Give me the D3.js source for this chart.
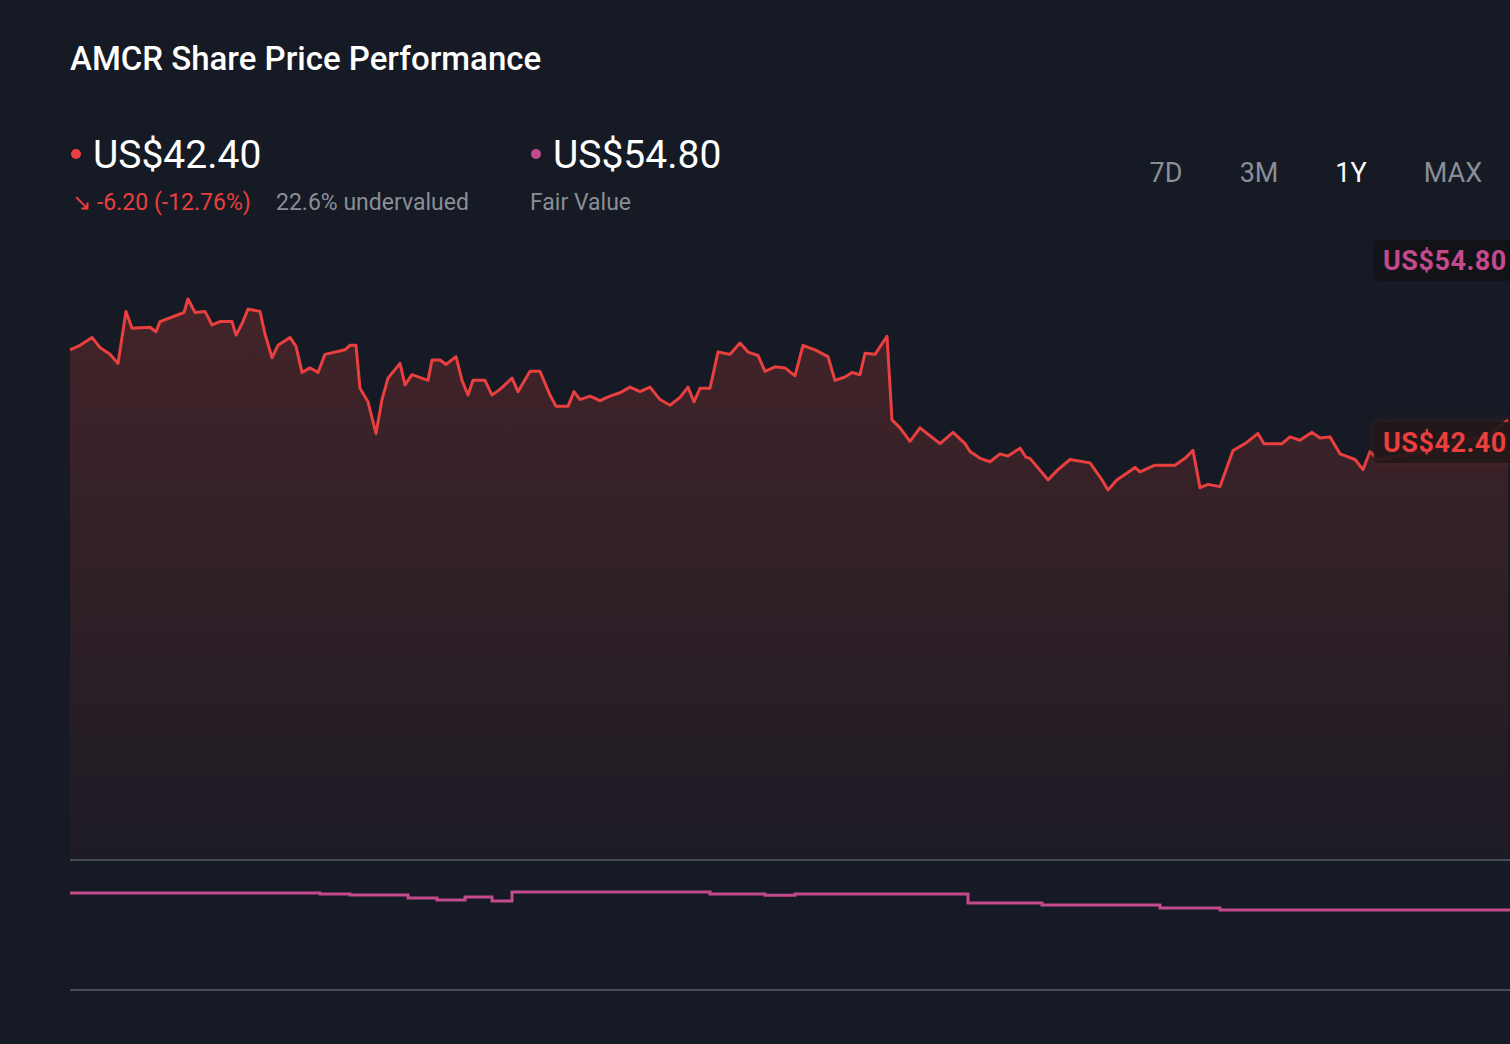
<!DOCTYPE html>
<html><head><meta charset="utf-8">
<script src="https://cdn.jsdelivr.net/npm/d3@7"></script>
<style>body{margin:0;background:#151a24;overflow:hidden}svg{display:block;font-family:Roboto,"Noto Sans",sans-serif}</style>
</head><body><svg id="c" width="1510" height="1044"></svg>
<script>
// Share price (days since start, US$)
const priceDays=[0,2.5,5.5,7.5,10,12,14,15.5,20,21.5,22.5,28.5,29.5,31.25,33.75,35.5,37.5,40.5,41.5,43,44.5,47.5,48.75,50.5,52,55,56.5,58,60,62,63.75,68.75,70,71.5,72.5,74.5,76.5,78,79.5,82.5,83.75,85.5,89.5,90.5,92.5,94,96.5,98,99.5,100.75,103.75,105.5,107.5,110.5,112,115,117.5,120,121.5,124.5,126,127.5,130,132.5,135,137.5,140,142.5,145,147.5,150,152.5,154.5,156,157.5,160,162,165,167.5,169.5,172,173.75,176.25,178.75,181.25,183.25,186.25,189.5,191.25,193.75,195.5,197.5,198.75,201.25,204.25,205.5,207.5,210,212.5,215,217.5,220.75,223.75,225,227.5,230,232.5,234.5,237.5,239,240,244.5,247,250,255,258,259.5,261.75,263,266.25,267.5,271.25,276.25,278.75,280.75,282.5,284.5,287.5,290.75,293.75,297,298.5,303,305,307.5,310.5,312.5,315,317.5,321.25,323.25,325,327,332.5,337.5,342.5,347.5,352.5,356.25,359.5];
const priceVals=[48.6,49.0,49.7,48.8,48.2,47.4,52.0,50.5,50.6,50.2,51.1,51.9,53.1,51.9,52.0,50.8,51.1,51.1,49.9,50.9,52.2,52.0,50.0,47.9,49.0,49.7,48.9,46.6,47.0,46.6,48.2,48.6,49.0,49.0,45.2,44.0,41.2,44.2,46.1,47.4,45.5,46.4,45.9,47.7,47.7,47.3,48.0,45.9,44.6,45.9,45.9,44.6,45.1,46.1,44.9,46.7,46.7,44.6,43.6,43.6,44.9,44.2,44.5,44.1,44.5,44.8,45.3,44.9,45.3,44.2,43.7,44.4,45.3,44.0,45.2,45.2,48.4,48.2,49.2,48.4,48.1,46.7,47.1,47.0,46.3,49.0,48.6,48.0,45.9,46.2,46.6,46.4,48.3,48.2,49.8,42.4,41.7,40.5,41.7,41.0,40.3,41.3,40.3,39.6,39.0,38.7,39.4,39.2,39.9,39.1,39.0,37.1,38.0,38.9,38.6,37.1,36.2,37.1,37.4,38.2,37.8,38.4,38.4,39.0,39.7,36.4,36.7,36.5,39.7,40.3,41.2,40.3,40.3,40.9,40.6,41.3,40.8,40.9,39.4,38.9,38.0,39.6,38.9,39.2,39.6,40.0,40.6,40.8,41.5,42.4];
// Fair value steps
const fvDays=[0,62.5,70,84.5,91.75,98.75,105.5,110.5,160,173.75,181.25,224.5,243,272.5,287.5,360];
const fvVals=[57.35,57.2,57.05,56.6,56.3,56.75,56.15,57.5,57.2,57.0,57.2,55.85,55.55,55.1,54.8,54.8];
const periods=["7D","3M","1Y","MAX"];
const svg=d3.select("#c");
const x=d3.scaleLinear().domain([0,359.5]).range([70,1508]);
const y=d3.scaleLinear().domain([3.47,59.2]).range([860,230]);
const yf=d3.scaleLinear().domain([42.8,62.3]).range([990,860]);
const pts=priceDays.map((d,i)=>[d,priceVals[i]]);
const defs=svg.append("defs");
const g=defs.append("linearGradient").attr("id","ag").attr("x1",0).attr("x2",0).attr("y1",0).attr("y2",1);
g.append("stop").attr("offset","0").attr("stop-color","#432429");
g.append("stop").attr("offset","1").attr("stop-color","#1d1b25");
const gl=defs.append("filter").attr("id","glow").attr("x","-20%").attr("y","-50%").attr("width","140%").attr("height","200%");
gl.append("feGaussianBlur").attr("stdDeviation",6);
svg.append("path").datum(pts).attr("fill","url(#ag)")
 .attr("d",d3.area().x(d=>x(d[0])).y0(860).y1(d=>y(d[1])));
svg.append("path").datum(pts).attr("fill","none").attr("stroke","#e9403f").attr("stroke-width",3).attr("stroke-linejoin","round")
 .attr("d",d3.line().x(d=>x(d[0])).y(d=>y(d[1])));
[860,990].forEach(v=>svg.append("line").attr("x1",70).attr("x2",1510).attr("y1",v).attr("y2",v).attr("stroke","#5a5e66").attr("stroke-width",1.5));
svg.append("path").datum(fvDays.map((d,i)=>[d,fvVals[i]])).attr("fill","none").attr("stroke","#c34a8c").attr("stroke-width",3)
 .attr("d",d3.line().curve(d3.curveStepAfter).x(d=>x(Math.min(d[0],359.5))+(d[0]>=360?2:0)).y(d=>yf(d[1])));
// title
svg.append("text").attr("x",70).attr("y",70).attr("fill","#fff").attr("font-size",33).attr("font-weight",500).text("AMCR Share Price Performance");
// header
svg.append("circle").attr("cx",76).attr("cy",154).attr("r",5).attr("fill","#e9403f");
svg.append("text").attr("x",93).attr("y",168).attr("fill","#fff").attr("font-size",39).text("US$42.40");
svg.append("text").attr("x",72).attr("y",210).attr("fill","#e9403f").attr("font-size",23).text("↘");
svg.append("text").attr("x",97).attr("y",210).attr("fill","#e9403f").attr("font-size",23).text("-6.20 (-12.76%)");
svg.append("text").attr("x",276).attr("y",210).attr("fill","#8a8e96").attr("font-size",23).text("22.6% undervalued");
svg.append("circle").attr("cx",536).attr("cy",154).attr("r",5).attr("fill","#c34a8c");
svg.append("text").attr("x",553).attr("y",168).attr("fill","#fff").attr("font-size",39).text("US$54.80");
svg.append("text").attr("x",530).attr("y",210).attr("fill","#8a8e96").attr("font-size",23).text("Fair Value");
const px=[1166,1259,1351,1453];
periods.forEach((p,i)=>svg.append("text").attr("x",px[i]).attr("y",182).attr("text-anchor","middle").attr("font-size",27).attr("fill",p==="1Y"?"#fff":"#8a8e96").text(p));
// right labels
svg.append("rect").attr("x",1374).attr("y",240).attr("width",150).attr("height",41).attr("rx",5).attr("fill","#111318");
svg.append("text").attr("x",1383).attr("y",270).attr("fill","#c34a8c").attr("font-size",27).attr("font-weight",700).attr("letter-spacing",0.5).text("US$54.80");
svg.append("rect").attr("x",1374).attr("y",422).attr("width",150).attr("height",41).attr("rx",5).attr("fill","#5a2024").attr("opacity",0.6).attr("filter","url(#glow)");
svg.append("rect").attr("x",1374).attr("y",422).attr("width",150).attr("height",41).attr("rx",5).attr("fill","#1e1619").attr("opacity",0.85);
svg.append("text").attr("x",1383).attr("y",452).attr("fill","#e9403f").attr("font-size",27).attr("font-weight",700).attr("letter-spacing",0.5).text("US$42.40");
</script></body></html>
